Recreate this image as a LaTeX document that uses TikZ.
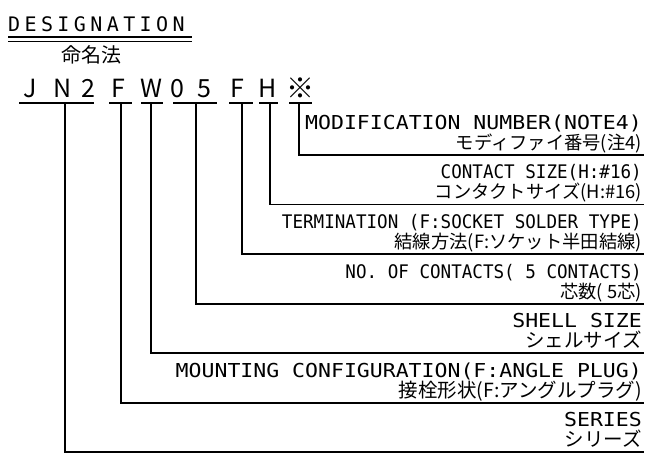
\documentclass[tikz,border=0pt]{standalone}
\usepackage{fontspec}
\usetikzlibrary{positioning}
\newfontfamily\widemono[FakeStretch=1.12]{DejaVu Sans Mono}
\newfontfamily\narrowmono[FakeStretch=0.94]{DejaVu Sans Mono}
\newfontfamily\titlemono[LetterSpace=22]{DejaVu Sans Mono}
\newfontfamily\jpfont{Noto Sans CJK JP}

\begin{document}
\begin{tikzpicture}[
  x=1pt, y=-1pt,
  entxt/.style={anchor=base east, inner sep=0pt, font=\widemono\fontsize{19.2}{21}\selectfont},
  entxtn/.style={entxt, font=\narrowmono\fontsize{18.7}{21}\selectfont},
  jptxt/.style={anchor=base east, inner sep=0pt, font=\jpfont\fontsize{19.5}{22}\selectfont},
  jptxtn/.style={jptxt, font=\jpfont\fontsize{18.3}{20}\selectfont},
  codechar/.style={anchor=base, inner sep=0pt, font=\jpfont\fontsize{25}{28}\selectfont},
  bar/.style={line width=1.4pt},
  lead/.style={line width=1.3pt}
]
\useasboundingbox (0,0) rectangle (653,461);

% heading
\node[anchor=base west, inner sep=0pt, font=\titlemono\fontsize{20}{22}\selectfont] (title) at (8,31) {DESIGNATION};
\draw[line width=1.6pt] ([yshift=-6pt]title.base west) -- ++(184,0);
\draw[line width=0.8pt] ([yshift=-10pt]title.base west) -- ++(184,0);
\node[inner sep=0pt, font=\jpfont\fontsize{20}{22}\selectfont] (meimei) at (91,55) {命名法};

% part number
\foreach \ch/\cx [count=\i] in {J/30, N/63, 2/88, F/118, W/151, 0/177, 5/204, F/237, H/268}
  \node[codechar] (c\i) at (\cx,97) {\ch};
\node[codechar, font=\jpfont\fontsize{28}{30}\selectfont] (c10) at (300,98) {※};
\foreach \a/\b in {19/94, 109/132, 141/163, 173/217, 229/253, 259/278, 289/312}
  \draw[bar] (\a,103) -- (\b,103);

% labels
\node[entxt] (modE) at (642,129) {MODIFICATION NUMBER(NOTE4)};
\node[jptxtn] (modJ) at (642,149) {モディファイ番号(注4)};
\node[entxtn] (cszE) at (642,178.5) {CONTACT SIZE(H:\#16)};
\node[jptxtn] (cszJ) at (642,198.5) {コンタクトサイズ(H:\#16)};
\node[entxtn] (trmE) at (642,228) {TERMINATION (F:SOCKET SOLDER TYPE)};
\node[jptxtn] (trmJ) at (642,248) {結線方法(F:ソケット半田結線)};
\node[entxtn] (nocE) at (642,278) {NO. OF CONTACTS( 5 CONTACTS)};
\node[jptxtn] (nocJ) at (642,298) {芯数( 5芯)};
\node[entxt] (shlE) at (642,327) {SHELL SIZE};
\node[jptxt] (shlJ) at (642,347) {シェルサイズ};
\node[entxt] (mntE) at (642,377) {MOUNTING CONFIGURATION(F:ANGLE PLUG)};
\node[jptxt] (mntJ) at (642,397) {接栓形状(F:アングルプラグ)};
\node[entxt] (serE) at (642,426) {SERIES};
\node[jptxt] (serJ) at (642,446) {シリーズ};

% leaders
\foreach \nm/\tx/\ly in {mod/299/155, csz/270/204.5, trm/242/254, noc/196/304, shl/151/353, mnt/121/403, ser/65/452} {
  \coordinate (\nm top) at (\tx,103);
  \coordinate (\nm end) at (644,\ly);
  \draw[lead] (\nm top) |- (\nm end);
}
\end{tikzpicture}
\end{document}
